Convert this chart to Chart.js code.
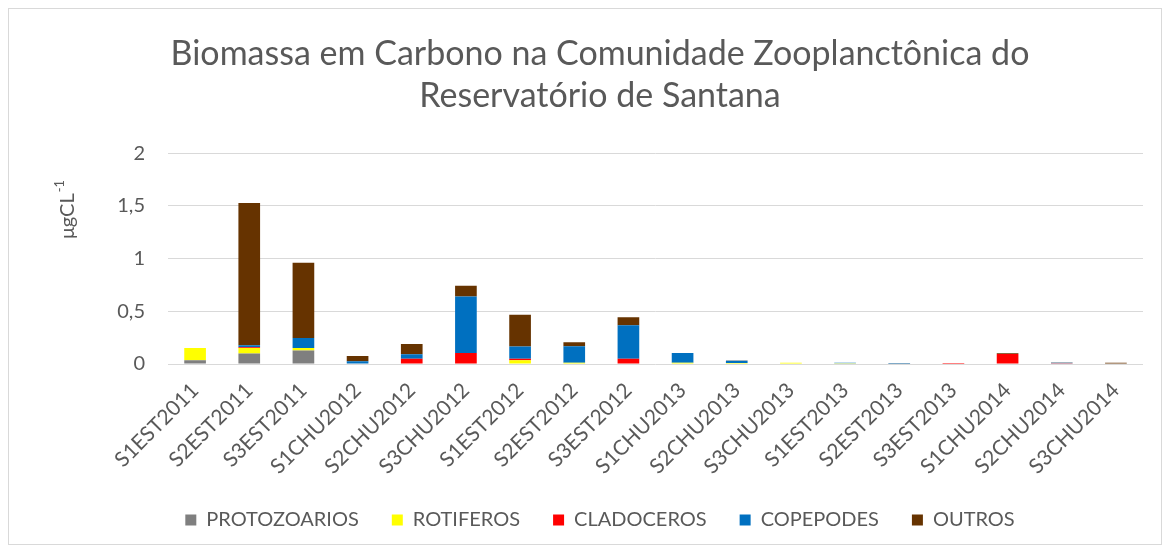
<!DOCTYPE html>
<html><head><meta charset="utf-8">
<script src="https://cdn.jsdelivr.net/npm/chart.js@4.4.1/dist/chart.umd.min.js"></script>
<style>html,body{margin:0;padding:0;background:#fff;overflow:hidden}#wrap{position:relative;width:1170px;height:553px}</style>
</head><body>
<div id="wrap"><canvas id="c" width="1170" height="553"></canvas></div>
<script>
const categories = ["S1EST2011","S2EST2011","S3EST2011","S1CHU2012","S2CHU2012","S3CHU2012","S1EST2012","S2EST2012","S3EST2012","S1CHU2013","S2CHU2013","S3CHU2013","S1EST2013","S2EST2013","S3EST2013","S1CHU2014","S2CHU2014","S3CHU2014"];
const protozoarios = [0.035,0.099,0.127,0.005,0,0,0.005,0,0,0,0,0,0,0.003,0,0,0,0];
const rotiferos    = [0.118,0.054,0.025,0,0,0,0.030,0.012,0,0.012,0.010,0.013,0.008,0,0.004,0,0,0];
const cladoceros   = [0,0.005,0,0,0.050,0.105,0.015,0,0.050,0,0,0,0,0,0.006,0.095,0.008,0.005];
const copepodes    = [0,0.020,0.096,0.020,0.042,0.535,0.115,0.156,0.318,0.092,0.020,0,0.004,0.003,0,0,0.005,0];
const outros       = [0,1.350,0.714,0.050,0.099,0.102,0.303,0.038,0.076,0,0.003,0,0,0,0,0.007,0.002,0.008];
const seriesNames  = ["PROTOZOARIOS","ROTIFEROS","CLADOCEROS","COPEPODES","OUTROS"];
const yTicks = [0,0.5,1,1.5,2];
const titleLines = ["Biomassa em Carbono na Comunidade Zooplanctônica do","Reservatório de Santana"];
const yTitle = "μgCL";
const yTitleSup = "-1";

const colors = ["#7F7F7F","#FFFF00","#FF0000","#0070C0","#663300"];
const seriesData = [protozoarios,rotiferos,cladoceros,copepodes,outros];
const TXT = "#595959";
Chart.defaults.font.family = "Lato, 'Open Sans', sans-serif";
Chart.defaults.color = TXT;

const frame = {
  id:'frame',
  beforeDraw(chart){
    const ctx = chart.ctx;
    ctx.save();
    ctx.fillStyle='#fff';ctx.fillRect(0,0,chart.width,chart.height);
    ctx.strokeStyle='#D9D9D9';ctx.lineWidth=1;
    ctx.strokeRect(8.5,8.5,chart.width-17,chart.height-17);
    ctx.restore();
  },
  afterDraw(chart){
    const ctx = chart.ctx;
    ctx.save();
    ctx.translate(68, 210);
    ctx.rotate(-Math.PI/2);
    ctx.fillStyle=TXT;
    ctx.font="20px Lato, 'Open Sans', sans-serif";
    const w1 = ctx.measureText(yTitle).width;
    ctx.font="13px Lato, 'Open Sans', sans-serif";
    const w2 = ctx.measureText(yTitleSup).width;
    const x0 = -(w1+w2)/2;
    ctx.textBaseline='middle';
    ctx.font="20px Lato, 'Open Sans', sans-serif";
    ctx.fillText(yTitle, x0, 0);
    ctx.font="13px Lato, 'Open Sans', sans-serif";
    ctx.fillText(yTitleSup, x0+w1+1, -8);
    ctx.restore();
  }
};

new Chart(document.getElementById('c'), {
  type:'bar',
  data:{
    labels:categories,
    datasets:seriesNames.map((n,i)=>({label:n,data:seriesData[i],backgroundColor:colors[i],borderWidth:0,barPercentage:0.4,categoryPercentage:1.0}))
  },
  options:{
    responsive:false,animation:false,
    layout:{padding:{left:57,right:27,top:0,bottom:13}},
    plugins:{
      title:{display:true,text:titleLines,color:TXT,font:{size:34,weight:'normal',lineHeight:1.24},padding:{top:33,bottom:36}},
      legend:{position:'bottom',labels:{boxWidth:11,boxHeight:11,padding:33,color:TXT,font:{size:20}}},
      tooltip:{enabled:false}
    },
    scales:{
      x:{stacked:true,grid:{display:false},border:{display:false},
         ticks:{autoSkip:false,minRotation:45,maxRotation:45,padding:6,color:TXT,font:{size:21}},
         afterFit(s){s.height=113;}},
      y:{stacked:true,min:0,max:2,
         grid:{color:'#D9D9D9',lineWidth:1,drawTicks:false},border:{display:false},
         afterBuildTicks(s){s.ticks=yTicks.map(v=>({value:v}));},
         ticks:{padding:23,color:TXT,font:{size:20},callback:v=>String(v).replace('.',',')},
         afterFit(s){s.width=111;}}
    }
  },
  plugins:[frame]
});
</script>
</body></html>
